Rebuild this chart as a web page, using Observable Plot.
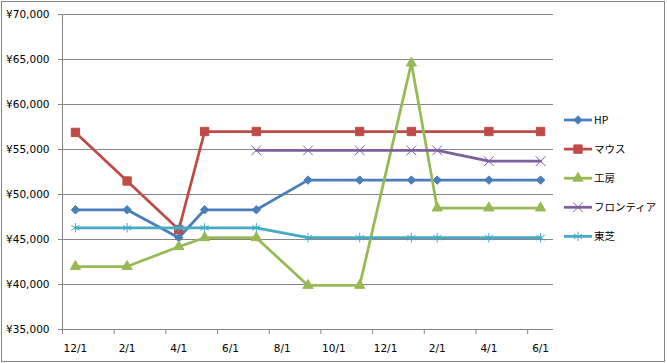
<!DOCTYPE html>
<html><head><meta charset="utf-8">
<script src="https://cdn.jsdelivr.net/npm/d3@7"></script>
<script src="https://cdn.jsdelivr.net/npm/@observablehq/plot@0.6"></script>
<style>
body{margin:0;background:#fff}
#chart{position:relative;width:667px;height:363px}
#chart svg{display:block}
</style>
</head><body><div id="chart"></div>
<script>
// ---- data ----
const dates = ["2007-12-01","2008-02-01","2008-04-01","2008-05-01","2008-07-01","2008-09-01","2008-11-01","2009-01-01","2009-02-01","2009-04-01","2009-06-01"];
const seriesNames = ["HP","マウス","工房","フロンティア","東芝"];
const hpValues       = [48300,48300,45200,48300,48300,51600,51600,51600,51600,51600,51600];
const mouseValues    = [56900,51500,46100,57000,57000,null,57000,57000,null,57000,57000];
const koboValues     = [42000,42000,44200,45200,45200,39900,39900,64600,48500,48500,48500];
const frontierValues = [null,null,null,null,54900,54900,54900,54900,54900,53700,53700];
const toshibaValues  = [46300,46300,46300,46300,46300,45200,45200,45200,45200,45200,45200];
const yTicks = [35000,40000,45000,50000,55000,60000,65000,70000];
const xTickLabels = ["12/1","2/1","4/1","6/1","8/1","10/1","12/1","2/1","4/1","6/1"];

// ---- build ----
const parse = d3.timeParse("%Y-%m-%d");
const start = parse(dates[0]);
const monthIdx = dates.map(d => d3.timeMonth.count(start, parse(d)));
const seriesValues = [hpValues, mouseValues, koboValues, frontierValues, toshibaValues];
const colors = ["#4A7EBB","#BE4B48","#98B954","#7D60A0","#46AAC5"];
const symbols = ["diamond2","square","triangle","times","asterisk"];
const radii = [3.8,4.7,3.8,4.5,4.5];
const filled = [true,true,true,false,false];

const boundaryTicks = d3.range(0, 19, 2);
const labelPos = boundaryTicks.map(m => m + 0.5);
const labelMap = new Map(labelPos.map((p, i) => [p, xTickLabels[i]]));

const marks = [
  Plot.gridY(yTicks, {stroke: "#868686", strokeOpacity: 1}),
  Plot.ruleX([0], {stroke: "#868686"}),
  Plot.axisY(yTicks, {tickSize: 4, tickPadding: 9, stroke: "#868686", fill: "black", label: null,
    tickFormat: d => "¥" + d3.format(",")(d)}),
  Plot.axisX(boundaryTicks, {tickSize: 5, stroke: "#868686", label: null, tickFormat: () => ""}),
  Plot.axisX(labelPos, {tickSize: 0, tickPadding: 15, fill: "black", label: null, tickFormat: d => labelMap.get(d)})
];

seriesNames.forEach((name, s) => {
  const rows = monthIdx.map((m, i) => ({x: m + 0.5, y: seriesValues[s][i]})).filter(r => r.y != null);
  marks.push(Plot.line(rows, {x: "x", y: "y", stroke: colors[s], strokeWidth: 2.75}));
  marks.push(Plot.dot(rows, {x: "x", y: "y", symbol: symbols[s], r: radii[s],
    fill: filled[s] ? colors[s] : "none", stroke: colors[s], strokeWidth: 1}));
});

const chart = Plot.plot({
  width: 667, height: 363,
  marginLeft: 62, marginRight: 114, marginTop: 14, marginBottom: 34,
  x: {type: "linear", domain: [0, 19], label: null},
  y: {domain: [35000, 70000], label: null},
  style: {fontFamily: "DejaVu Sans", fontSize: "10.5px", color: "black", background: "white"},
  marks
});

// legend + chart border
const svg = d3.select(chart);
const symMap = {diamond2: d3.symbolDiamond2, square: d3.symbolSquare, triangle: d3.symbolTriangle, times: d3.symbolTimes, asterisk: d3.symbolAsterisk};
const lg = svg.append("g").attr("text-anchor", "start");
seriesNames.forEach((name, s) => {
  const y = 120 + s * 29.1;
  lg.append("line").attr("x1", 564).attr("x2", 592).attr("y1", y).attr("y2", y)
    .attr("stroke", colors[s]).attr("stroke-width", 2.75);
  lg.append("path").attr("transform", `translate(578,${y})`)
    .attr("d", d3.symbol(symMap[symbols[s]], Math.PI * radii[s] * radii[s])())
    .attr("fill", filled[s] ? colors[s] : "none").attr("stroke", colors[s]).attr("stroke-width", 1);
  lg.append("text").attr("x", 594).attr("y", y).attr("dy", "0.35em").attr("text-anchor", "start")
    .attr("font-family", "'Noto Sans CJK JP'").attr("font-size", "10.5px").attr("fill", "black").text(name);
});
svg.append("rect").attr("x", 1.5).attr("y", 1.5).attr("width", 663).attr("height", 360)
  .attr("fill", "none").attr("stroke", "#868686");

document.getElementById("chart").appendChild(chart);
</script>
</body></html>
